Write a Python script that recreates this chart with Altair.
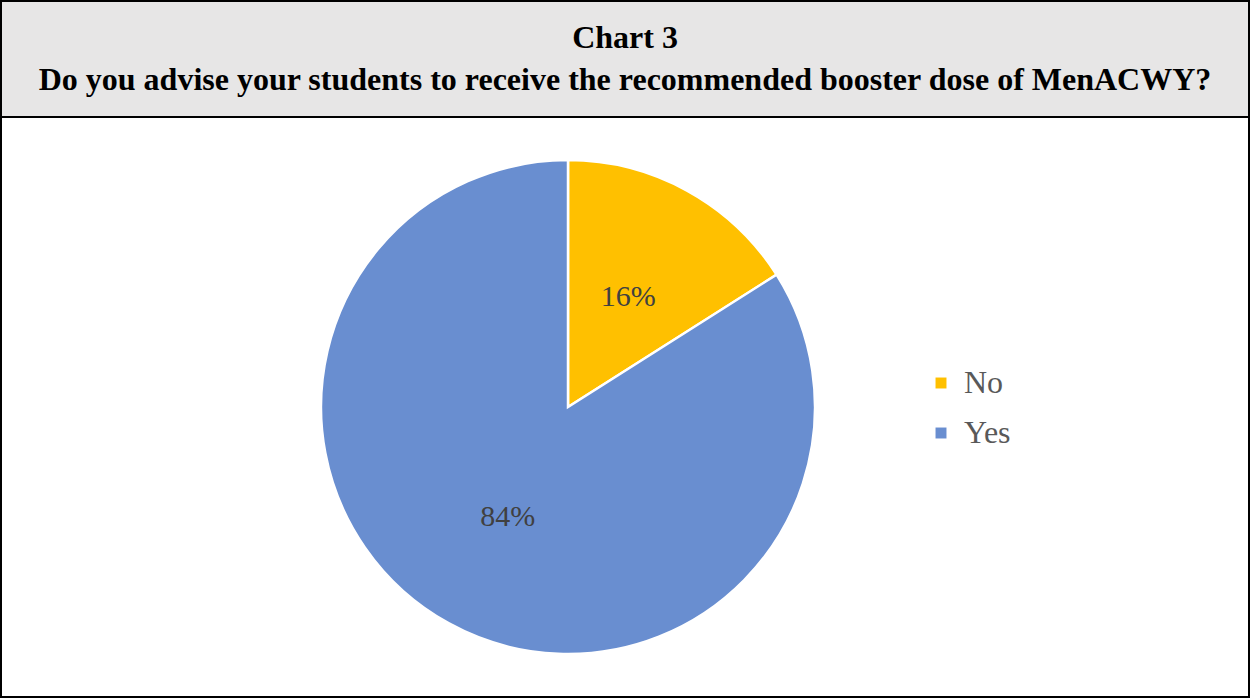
import altair as alt
import pandas as pd

categories = ["No", "Yes"]
values = [16, 84]
labels = ["16%", "84%"]
order = [0, 1]
colors = ["#FFC000", "#698ED0"]
title_lines = ["Chart 3", "Do you advise your students to receive the recommended booster dose of MenACWY?"]

df = pd.DataFrame({"answer": categories, "value": values, "label": labels, "order": order})

W, H = 1250, 698
CX, CY, R = 568, 407, 247
FONT = "Liberation Serif"

title_bg = alt.Chart(pd.DataFrame({"a": [0]})).mark_rect(
    fill="#E7E6E6", stroke="black", strokeWidth=2
).encode(x=alt.value(1), x2=alt.value(W - 1), y=alt.value(1), y2=alt.value(117))

body_box = alt.Chart(pd.DataFrame({"a": [0]})).mark_rect(
    fill="white", stroke="black", strokeWidth=2
).encode(x=alt.value(1), x2=alt.value(W - 1), y=alt.value(117), y2=alt.value(H - 1))

title_layers = []
for line, ypos in zip(title_lines, [38, 80]):
    title_layers.append(
        alt.Chart(pd.DataFrame({"line": [line]})).mark_text(
            font=FONT, fontSize=32, fontWeight="bold", color="black",
            align="center", baseline="middle"
        ).encode(text="line:N", x=alt.value(W / 2), y=alt.value(ypos))
    )

base = alt.Chart(df).encode(
    theta=alt.Theta("value:Q", stack=True),
    order=alt.Order("order:Q"),
)

pie = base.mark_arc(outerRadius=R, stroke="white", strokeWidth=2.5).encode(
    color=alt.Color(
        "answer:N",
        scale=alt.Scale(domain=categories, range=colors),
        legend=alt.Legend(
            title=None,
            orient="none",
            legendX=925,
            legendY=367,
            symbolType="square",
            symbolSize=120,
            symbolStrokeWidth=0,
            labelFont=FONT,
            labelFontSize=32,
            labelColor="#595959",
            rowPadding=18,
            labelOffset=7,
        ),
    ),
    x=alt.value(CX),
    y=alt.value(CY),
)

text = base.mark_text(radius=125, font=FONT, fontSize=30, color="#404040").encode(
    text="label:N",
    x=alt.value(CX),
    y=alt.value(CY),
)

chart = alt.layer(title_bg, body_box, *title_layers, pie, text).properties(
    width=W, height=H, padding=0, autosize=alt.AutoSizeParams(type="none")
).configure_view(stroke=None)

chart.save("out.html", embed_options={"renderer": "svg", "actions": False})
